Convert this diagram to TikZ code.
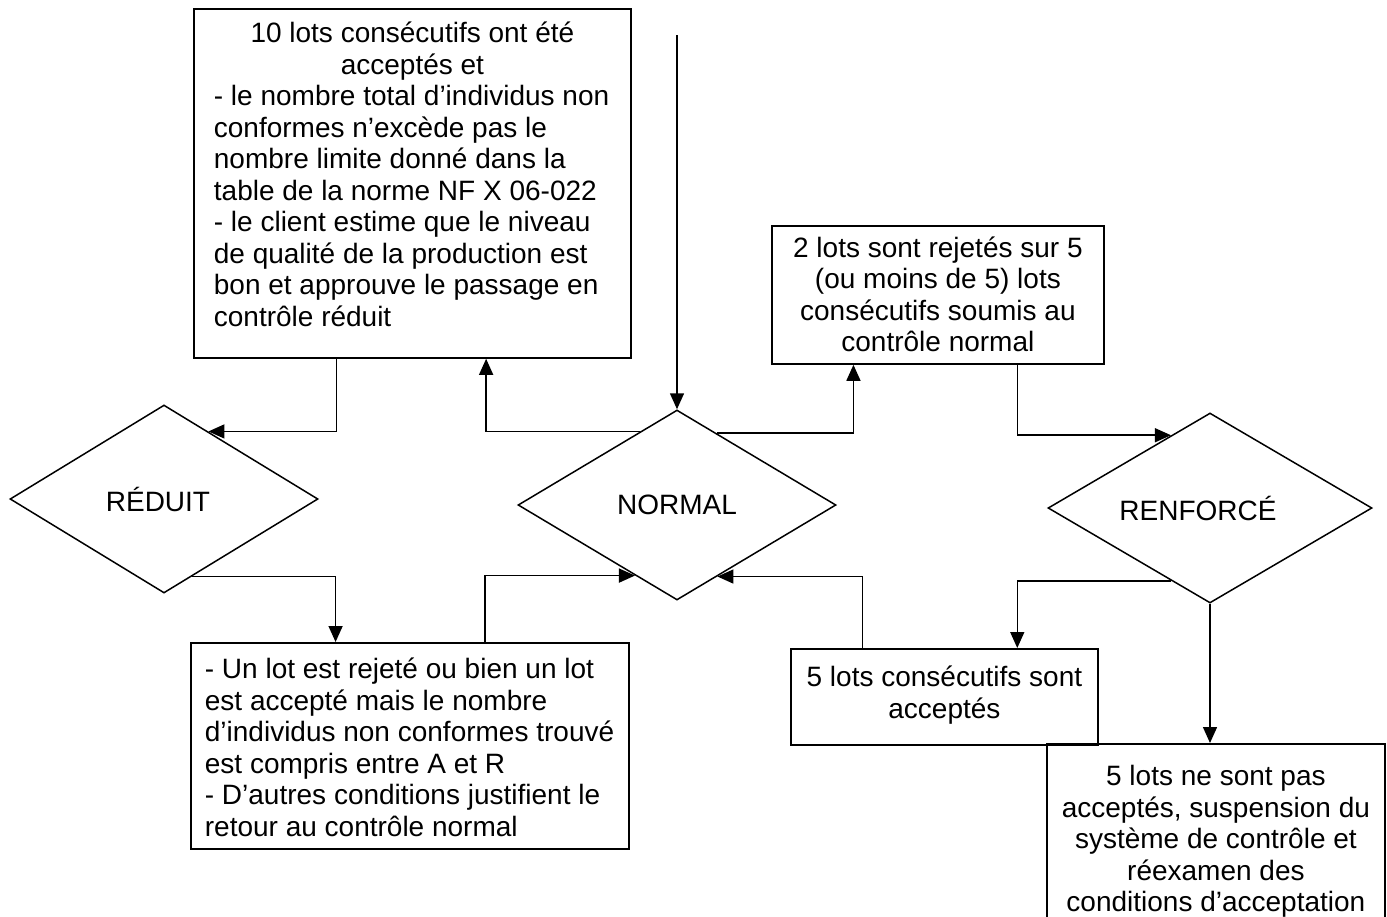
\documentclass[tikz,border=0pt]{standalone}
\usepackage{fontspec}
\setmainfont{Liberation Sans}
\usetikzlibrary{shapes.geometric,arrows.meta,calc}
\newcommand\bxt[4]{\parbox[c][#2pt][t]{#1pt}{\vspace*{#3pt}\fontsize{28}{31.5}\selectfont #4}}
\begin{document}
\begin{tikzpicture}[x=1pt,y=-1pt,
  line width=1.5pt,
  boxnode/.style={draw, line width=1.8pt, inner sep=0pt, anchor=north west},
  dia/.style={draw, shape=diamond, inner sep=0pt, font=\fontsize{28}{31.5}\selectfont},
  arr/.style={-{Triangle[length=16pt,width=14pt]}}]
\useasboundingbox (0,0) rectangle (1387,916);

% boxes
\node[boxnode] (b1) at (193,8) {\bxt{437}{349}{8}{\centering\rule{0pt}{26pt}10 lots consécutifs ont été\\ acceptés et\par
\raggedright\leftskip=20pt - le nombre total d’individus non\\ conformes n’excède pas le\\ nombre limite donné dans la\\ table de la norme NF X 06-022\\ - le client estime que le niveau\\ de qualité de la production est\\ bon et approuve le passage en\\ contrôle réduit\par}};

\node[boxnode] (b2) at (771,225) {\bxt{332}{138}{5.5}{\centering\rule{0pt}{26pt}2 lots sont rejetés sur 5\\ (ou moins de 5) lots\\ consécutifs soumis au\\ contrôle normal\par}};

\node[boxnode] (b3) at (190,642) {\bxt{438}{206}{10}{\raggedright\leftskip=14pt\rule{0pt}{26pt}- Un lot est rejeté ou bien un lot\\ est accepté mais le nombre\\ d’individus non conformes trouvé\\ est compris entre A et R\\ - D’autres conditions justifient le\\ retour au contrôle normal\par}};

\node[boxnode] (b4) at (790,648) {\bxt{307}{96}{12}{\centering\rule{0pt}{26pt}5 lots consécutifs sont\\ acceptés\par}};

\node[boxnode] (b5) at (1046,743) {\bxt{338}{185}{16}{\centering\rule{0pt}{26pt}5 lots ne sont pas\\ acceptés, suspension du\\ système de contrôle et\\ réexamen des\\ conditions d’acceptation\par}};

% diamonds
\node[dia, minimum width=308pt, minimum height=188pt] (red) at (164,499) {\makebox[0pt]{RÉDUIT\kern12pt}};
\node[dia, minimum width=318pt, minimum height=190pt] (nor) at (677,505) {\makebox[0pt]{NORMAL}};
\node[dia, minimum width=324pt, minimum height=190pt] (ren) at (1210,508) {\makebox[0pt]{RENFORCÉ\kern24pt}};

% connectors
\coordinate (in) at (677,35);
\draw[arr] (in) -- (nor.north);
\draw[arr] ($(nor.north)!0.23!(nor.west)$) -| ($(b1.south west)!0.668!(b1.south east)$);
\draw[arr] ($(b1.south west)!0.327!(b1.south east)$) |- ($(red.north)!0.287!(red.east)$);
\draw[arr] ($(nor.north)!0.25!(nor.east)$) -| ($(b2.south west)!0.247!(b2.south east)$);
\draw[arr] ($(b2.south west)!0.738!(b2.south east)$) |- ($(ren.north)!0.24!(ren.west)$);
\draw[arr] ($(red.south)!0.18!(red.east)$) -| ($(b3.north west)!0.331!(b3.north east)$);
\draw[arr] ($(b3.north west)!0.671!(b3.north east)$) |- ($(nor.south)!0.263!(nor.west)$);
\draw[arr] ($(ren.south)!0.24!(ren.west)$) -| ($(b4.north west)!0.736!(b4.north east)$);
\draw[arr] ($(b4.north west)!0.235!(b4.north east)$) |- ($(nor.south)!0.253!(nor.east)$);
\draw[arr] (ren.south) -- (ren.south |- b5.north);
\end{tikzpicture}
\end{document}
